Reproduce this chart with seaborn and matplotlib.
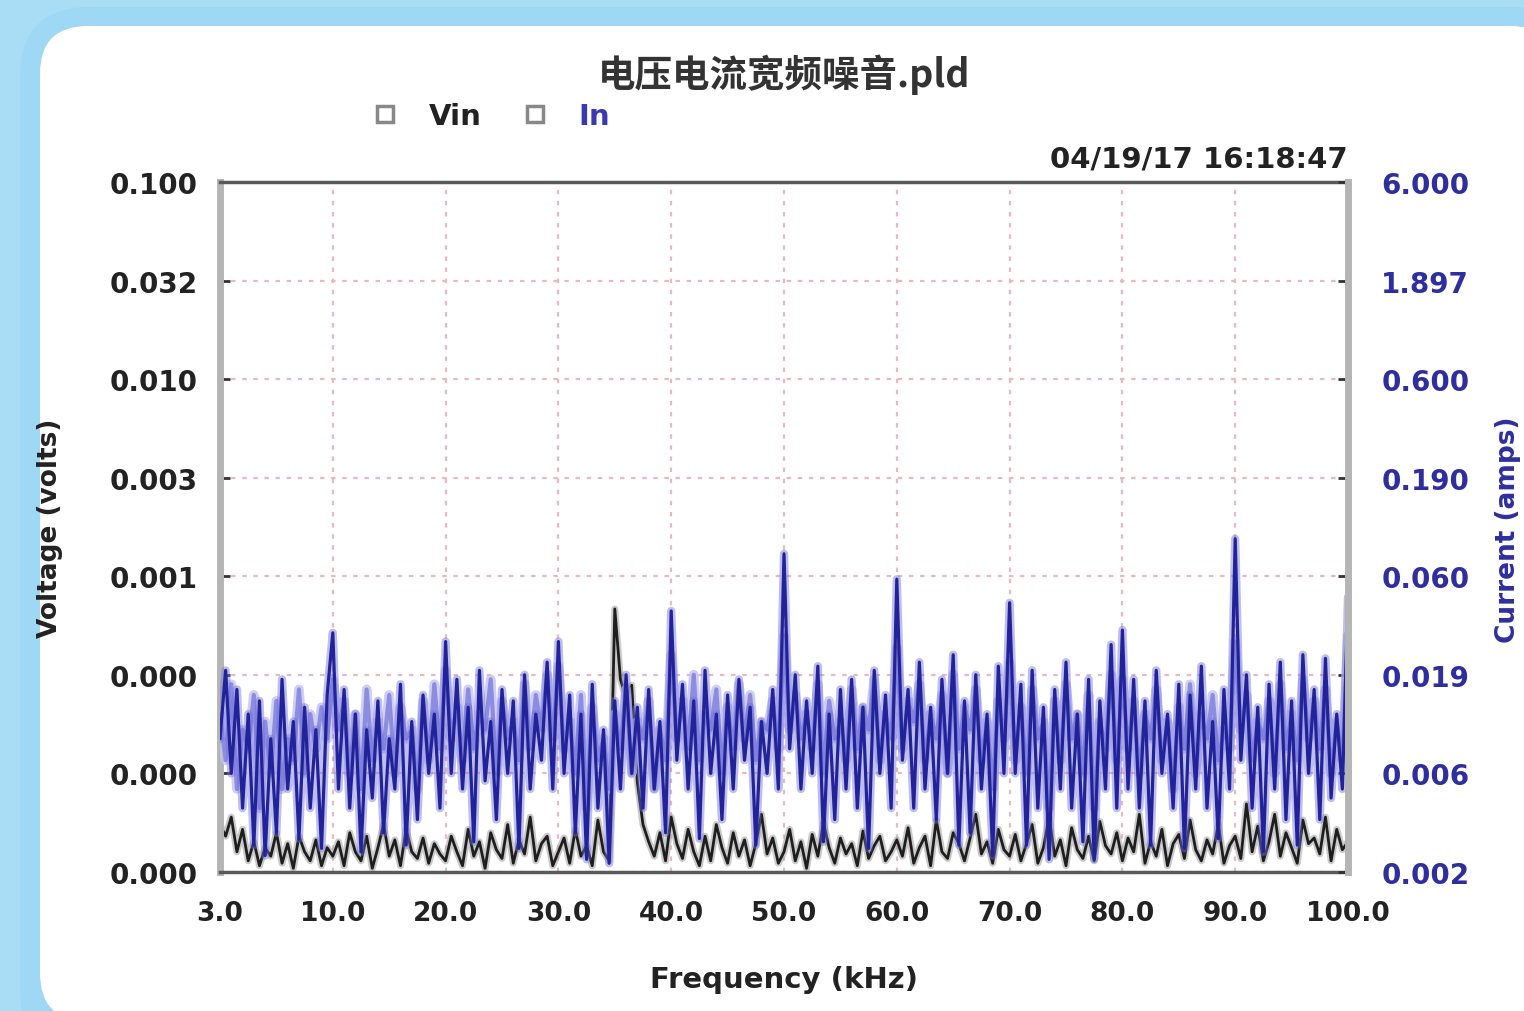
import numpy as np
import matplotlib
matplotlib.use("Agg")
import matplotlib.pyplot as plt
from matplotlib.patches import FancyBboxPatch
from matplotlib.lines import Line2D
from matplotlib.ticker import NullLocator
import seaborn as sns

# sweep points, 0.5 kHz apart
freq_khz = np.arange(0, 100.5, 0.5)

# In, first sweep (mA) - dark trace
in_a_ma = [
    9, 20, 6, 16, 4, 12, 2.6, 14, 2.3, 9, 3, 18, 5, 11, 2.8, 13, 4, 10, 2.5, 15,
    31, 5, 16, 4, 12, 2.4, 10, 4.5, 14, 3, 9, 5, 17, 2.6, 11, 3.5, 15, 6, 12, 4,
    28, 6, 18, 5, 13, 2.7, 20, 5.5, 11, 3.5, 16, 6, 14, 2.5, 19, 5, 12, 7, 22, 5,
    28, 6, 15, 3, 12, 2.2, 17, 4, 10, 2.1, 14, 5, 19, 6, 13, 4, 16, 5, 11, 3,
    40, 7, 17, 5, 14, 2.8, 20, 6, 12, 3.5, 15, 5, 18, 7, 13, 2.6, 11, 6, 16, 5,
    78, 8, 19, 5, 14, 6, 21, 2.7, 12, 3.5, 16, 5, 18, 4, 13, 2.5, 20, 6, 15, 4,
    58, 7, 16, 4, 22, 5, 13, 3.5, 18, 6, 24, 2.6, 14, 3, 19, 5, 12, 2.3, 21, 6,
    44, 6, 17, 2.6, 20, 4, 13, 2.2, 16, 5, 22, 4, 12, 2.7, 18, 2.2, 14, 5, 27, 4,
    32, 5, 18, 4, 14, 2.6, 20, 6, 12, 4, 17, 2.5, 15, 5, 21, 4, 11, 2.8, 16, 5,
    93, 7, 19, 4, 13, 2.4, 17, 5, 22, 3.5, 14, 2.6, 24, 6, 16, 3.5, 23, 4.5, 12, 5,
    47,
]

# In, second sweep (mA) - light trace
in_b_ma = [
    12, 7, 17, 5, 10, 8, 15, 4, 11, 6, 14, 5, 9, 7, 16, 6, 12, 8, 13, 9,
    18, 10, 14, 6, 12, 5, 16, 7, 11, 8, 15, 6, 13, 9, 10, 5, 14, 7, 17, 8,
    20, 9, 13, 7, 16, 8, 12, 10, 18, 6, 14, 9, 11, 7, 17, 8, 15, 10, 19, 9,
    21, 8, 11, 6, 15, 4, 13, 7, 9, 5, 12, 8, 16, 6, 11, 9, 14, 5, 10, 7,
    24, 9, 14, 8, 19, 7, 12, 10, 16, 6, 13, 8, 17, 9, 15, 7, 11, 10, 14, 8,
    30, 10, 15, 9, 12, 8, 17, 6, 14, 9, 11, 7, 16, 8, 13, 10, 18, 7, 12, 9,
    26, 8, 14, 11, 17, 7, 12, 9, 15, 6, 19, 8, 13, 10, 16, 7, 11, 5, 14, 9,
    22, 7, 13, 6, 16, 9, 11, 4, 14, 7, 17, 9, 12, 6, 15, 4, 11, 8, 19, 7,
    18, 8, 14, 6, 12, 9, 16, 7, 11, 5, 13, 8, 17, 6, 12, 9, 15, 7, 10, 8,
    28, 10, 15, 7, 11, 9, 14, 6, 17, 8, 12, 7, 18, 9, 14, 8, 16, 6, 11, 7,
    30,
]

# Vin (microvolts)
vin_uv = [
    55, 48, 60, 40, 52, 36, 45, 34, 42, 38, 50, 35, 44, 33, 48, 40, 36, 46, 34, 42,
    38, 45, 34, 50, 40, 36, 48, 33, 42, 55, 38, 46, 34, 52, 40, 37, 47, 35, 44, 39,
    36, 48, 40, 34, 52, 38, 45, 33, 50, 41, 37, 55, 35, 46, 39, 60, 36, 44, 48, 34,
    40, 47, 35, 52, 38, 43, 34, 58, 40, 36, 683, 300, 240, 280, 90, 55, 45, 38, 50, 36,
    60, 44, 37, 52, 40, 34, 48, 36, 55, 42, 35, 50, 38, 46, 34, 44, 62, 39, 47, 35,
    40, 52, 36, 45, 33, 49, 38, 56, 42, 35, 47, 39, 44, 34, 51, 37, 43, 48, 36, 40,
    46, 38, 53, 35, 42, 48, 34, 58, 40, 37, 50, 44, 36, 47, 62, 39, 45, 35, 52, 41,
    38, 49, 36, 44, 55, 35, 42, 60, 38, 46, 34, 53, 41, 37, 48, 36, 57, 43, 39, 50,
    36, 47, 40, 62, 35, 45, 38, 52, 34, 44, 49, 37, 58, 41, 36, 46, 39, 55, 35, 43,
    48, 37, 70, 40, 54, 36, 45, 62, 38, 50, 42, 35, 58, 44, 47, 39, 60, 36, 52, 41,
    45,
]

x_ticks = [0, 10, 20, 30, 40, 50, 60, 70, 80, 90, 100]
x_tick_labels = ["3.0", "10.0", "20.0", "30.0", "40.0", "50.0", "60.0", "70.0", "80.0", "90.0", "100.0"]
volt_ticks = [0.1, 0.0316, 0.01, 0.00316, 0.001, 0.000316, 0.0001, 0.0000316]
volt_labels = ["0.100", "0.032", "0.010", "0.003", "0.001", "0.000", "0.000", "0.000"]
amp_ticks = [6.0, 1.897, 0.6, 0.1897, 0.06, 0.01897, 0.006, 0.001897]
amp_labels = ["6.000", "1.897", "0.600", "0.190", "0.060", "0.019", "0.006", "0.002"]

in_a = np.array(in_a_ma) / 1000.0
in_b = np.array(in_b_ma) / 1000.0
vin = np.array(vin_uv) / 1e6

sns.set_theme(style="white")
plt.rcParams['font.family'] = ['DejaVu Sans']

W, H = 1524, 1012
fig = plt.figure(figsize=(W / 100, H / 100), dpi=100)
fig.patch.set_facecolor('#a9ddf6')

# background card (pixel coordinates)
bg = fig.add_axes([0, 0, 1, 1], zorder=-5)
bg.set_xlim(0, W)
bg.set_ylim(H, 0)
bg.axis('off')
bg.add_patch(FancyBboxPatch((20, 8), W + 40, H + 40, boxstyle="round,pad=0,rounding_size=70",
                            fc='#9fd8f4', ec='none'))
bg.add_patch(FancyBboxPatch((40, 27), W - 6, H - 17, boxstyle="round,pad=0,rounding_size=48",
                            fc='white', ec='none'))

ax = fig.add_axes([220 / W, 1 - 873 / H, 1128 / W, 690 / H])
ax.patch.set_alpha(0)
ax2 = ax.twinx()

# Vin on the left axis
sns.lineplot(x=freq_khz, y=vin, ax=ax, color='#a8a8a8', lw=5, alpha=0.6, legend=False)
sns.lineplot(x=freq_khz, y=vin, ax=ax, color='#1e1e1e', lw=2, legend=False)

# In on the right axis
sns.lineplot(x=freq_khz, y=in_b, ax=ax2, color='#c4c4f2', lw=7, alpha=0.8, legend=False)
sns.lineplot(x=freq_khz, y=in_b, ax=ax2, color='#8c8ce0', lw=3, legend=False)
sns.lineplot(x=freq_khz, y=in_a, ax=ax2, color='#7070d8', lw=6, alpha=0.45, legend=False)
sns.lineplot(x=freq_khz, y=in_a, ax=ax2, color='#22229a', lw=2.3, legend=False)

ax.set_yscale('log')
ax2.set_yscale('log')
ax.set_xlim(0, 100)
ax.set_ylim(10 ** -4.5, 0.1)
ax2.set_ylim(6 * 10 ** -3.5, 6)
for a in (ax, ax2):
    a.yaxis.set_minor_locator(NullLocator())

ax.set_xticks(x_ticks)
ax.set_xticklabels(x_tick_labels, fontsize=19, fontweight='bold', color='#222222')
ax.set_yticks(volt_ticks)
ax.set_yticklabels(volt_labels, fontsize=20, fontweight='bold', color='#222222')
ax2.set_yticks(amp_ticks)
ax2.set_yticklabels(amp_labels, fontsize=20, fontweight='bold', color='#2e2e9e')

ax.tick_params(axis='x', length=0, pad=20)
ax.tick_params(axis='y', direction='in', length=7, width=2, color='#333333', pad=16)
ax2.tick_params(axis='y', direction='in', length=7, width=2, color='#333333', pad=24)

ax.grid(True, color='#eab8c0', linestyle=(0, (2, 3)), lw=1.6)
ax2.grid(False)

# frame
ax.spines['left'].set_color('#b5b5b5')
ax.spines['left'].set_linewidth(5)
ax.spines['right'].set_visible(False)
for s in ('top', 'bottom'):
    ax.spines[s].set_color('#5a5a5a')
    ax.spines[s].set_linewidth(2.5)
ax2.spines['right'].set_color('#b5b5b5')
ax2.spines['right'].set_linewidth(5)
for s in ('left', 'top', 'bottom'):
    ax2.spines[s].set_visible(False)

ax.set_xlabel('Frequency (kHz)', fontsize=21, fontweight='bold', color='#222222', va='center')
ax.xaxis.set_label_coords(0.5, (873 - 980) / 690)
ax.set_ylabel('Voltage (volts)', fontsize=19, fontweight='bold', color='#222222', va='center')
ax.yaxis.set_label_coords((50 - 220) / 1128, (873 - 528) / 690)
ax2.set_ylabel('Current (amps)', fontsize=19, fontweight='bold', color='#2e2e9e', va='center', rotation=90)
ax2.yaxis.set_label_coords((1508 - 220) / 1128, (873 - 530) / 690)

fig.text(784 / W, 1 - 75 / H, '电压电流宽频噪音.pld', family=['Noto Sans CJK SC', 'DejaVu Sans'],
         fontsize=27, fontweight='bold', color='#333333', ha='center', va='center')
ax.text(1.0, 1 + (183 - 160) / 690, '04/19/17 16:18:47', transform=ax.transAxes,
        ha='right', va='center', fontsize=21, fontweight='bold', color='#222222')

handles = [Line2D([], [], ls='none', marker='s', ms=11, mfc='white', mec='#888888', mew=2.5),
           Line2D([], [], ls='none', marker='s', ms=11, mfc='white', mec='#888888', mew=2.5)]
fig.legend(handles, ['Vin', 'In'], loc='center left', bbox_to_anchor=(330 / W, 1 - 117 / H),
           ncol=2, frameon=False, handletextpad=0.5, columnspacing=0.8,
           prop={'size': 21, 'weight': 'bold'}, labelcolor=['#222222', '#3a3ab0'])

fig.savefig('out.png', dpi=100, facecolor=fig.get_facecolor())
